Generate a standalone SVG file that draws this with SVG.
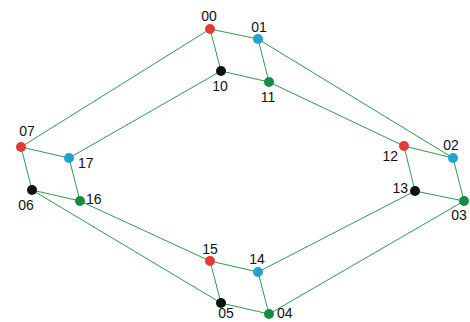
<svg xmlns="http://www.w3.org/2000/svg" width="470" height="322" viewBox="0 0 470 322">
<style>
.e{stroke:#2f9a4c;stroke-width:1;fill:none}
.r{fill:#e23b36}.b{fill:#25a3cc}.k{fill:#111111}.g{fill:#168c43}
text{font-family:"Liberation Sans",Arial,sans-serif;font-size:14px;fill:#111}
</style>
<rect width="470" height="322" fill="#ffffff"/>
<g id="connectors">
<line class="e" x1="210" y1="29" x2="258" y2="39"/>
<line class="e" x1="210" y1="29" x2="221" y2="71"/>
<line class="e" x1="258" y1="39" x2="269" y2="82"/>
<line class="e" x1="221" y1="71" x2="269" y2="82"/>
<line class="e" x1="210" y1="29" x2="21" y2="147"/>
<line class="e" x1="221" y1="71" x2="69" y2="158"/>
<line class="e" x1="258" y1="39" x2="453" y2="158"/>
<line class="e" x1="269" y1="82" x2="404" y2="146"/>
<line class="e" x1="21" y1="147" x2="69" y2="158"/>
<line class="e" x1="21" y1="147" x2="32" y2="190"/>
<line class="e" x1="69" y1="158" x2="80" y2="201"/>
<line class="e" x1="32" y1="190" x2="80" y2="201"/>
<line class="e" x1="404" y1="146" x2="453" y2="158"/>
<line class="e" x1="404" y1="146" x2="415" y2="191"/>
<line class="e" x1="453" y1="158" x2="464" y2="201"/>
<line class="e" x1="415" y1="191" x2="464" y2="201"/>
<line class="e" x1="32" y1="190" x2="221" y2="303"/>
<line class="e" x1="80" y1="201" x2="210" y2="261"/>
<line class="e" x1="415" y1="191" x2="258" y2="272"/>
<line class="e" x1="464" y1="201" x2="269" y2="314"/>
<line class="e" x1="210" y1="261" x2="258" y2="272"/>
<line class="e" x1="210" y1="261" x2="221" y2="303"/>
<line class="e" x1="258" y1="272" x2="269" y2="314"/>
<line class="e" x1="221" y1="303" x2="269" y2="314"/>
</g>
<g id="n00"><circle class="r" cx="210" cy="29" r="5"/><text x="209" y="21" text-anchor="middle">00</text></g>
<g id="n01"><circle class="b" cx="258" cy="39" r="5"/><text x="259" y="32" text-anchor="middle">01</text></g>
<g id="n10"><circle class="k" cx="221" cy="71" r="5"/><text x="220" y="91" text-anchor="middle">10</text></g>
<g id="n11"><circle class="g" cx="269" cy="82" r="5"/><text x="268" y="102" text-anchor="middle">11</text></g>
<g id="n07"><circle class="r" cx="21" cy="147" r="5"/><text x="27" y="136" text-anchor="middle">07</text></g>
<g id="n17"><circle class="b" cx="69" cy="158" r="5"/><text x="78" y="168">17</text></g>
<g id="n06"><circle class="k" cx="32" cy="190" r="5"/><text x="26" y="210" text-anchor="middle">06</text></g>
<g id="n16"><circle class="g" cx="80" cy="201" r="5"/><text x="86" y="204">16</text></g>
<g id="n12"><circle class="r" cx="404" cy="146" r="5"/><text x="398" y="161" text-anchor="end">12</text></g>
<g id="n02"><circle class="b" cx="453" cy="158" r="5"/><text x="451" y="150" text-anchor="middle">02</text></g>
<g id="n13"><circle class="k" cx="415" cy="191" r="5"/><text x="408" y="193" text-anchor="end">13</text></g>
<g id="n03"><circle class="g" cx="464" cy="201" r="5"/><text x="459" y="220" text-anchor="middle">03</text></g>
<g id="n15"><circle class="r" cx="210" cy="261" r="5"/><text x="210" y="254" text-anchor="middle">15</text></g>
<g id="n14"><circle class="b" cx="258" cy="272" r="5"/><text x="257" y="264" text-anchor="middle">14</text></g>
<g id="n05"><circle class="k" cx="221" cy="303" r="5"/><text x="226" y="318" text-anchor="middle">05</text></g>
<g id="n04"><circle class="g" cx="269" cy="314" r="5"/><text x="277" y="318">04</text></g>
</svg>
